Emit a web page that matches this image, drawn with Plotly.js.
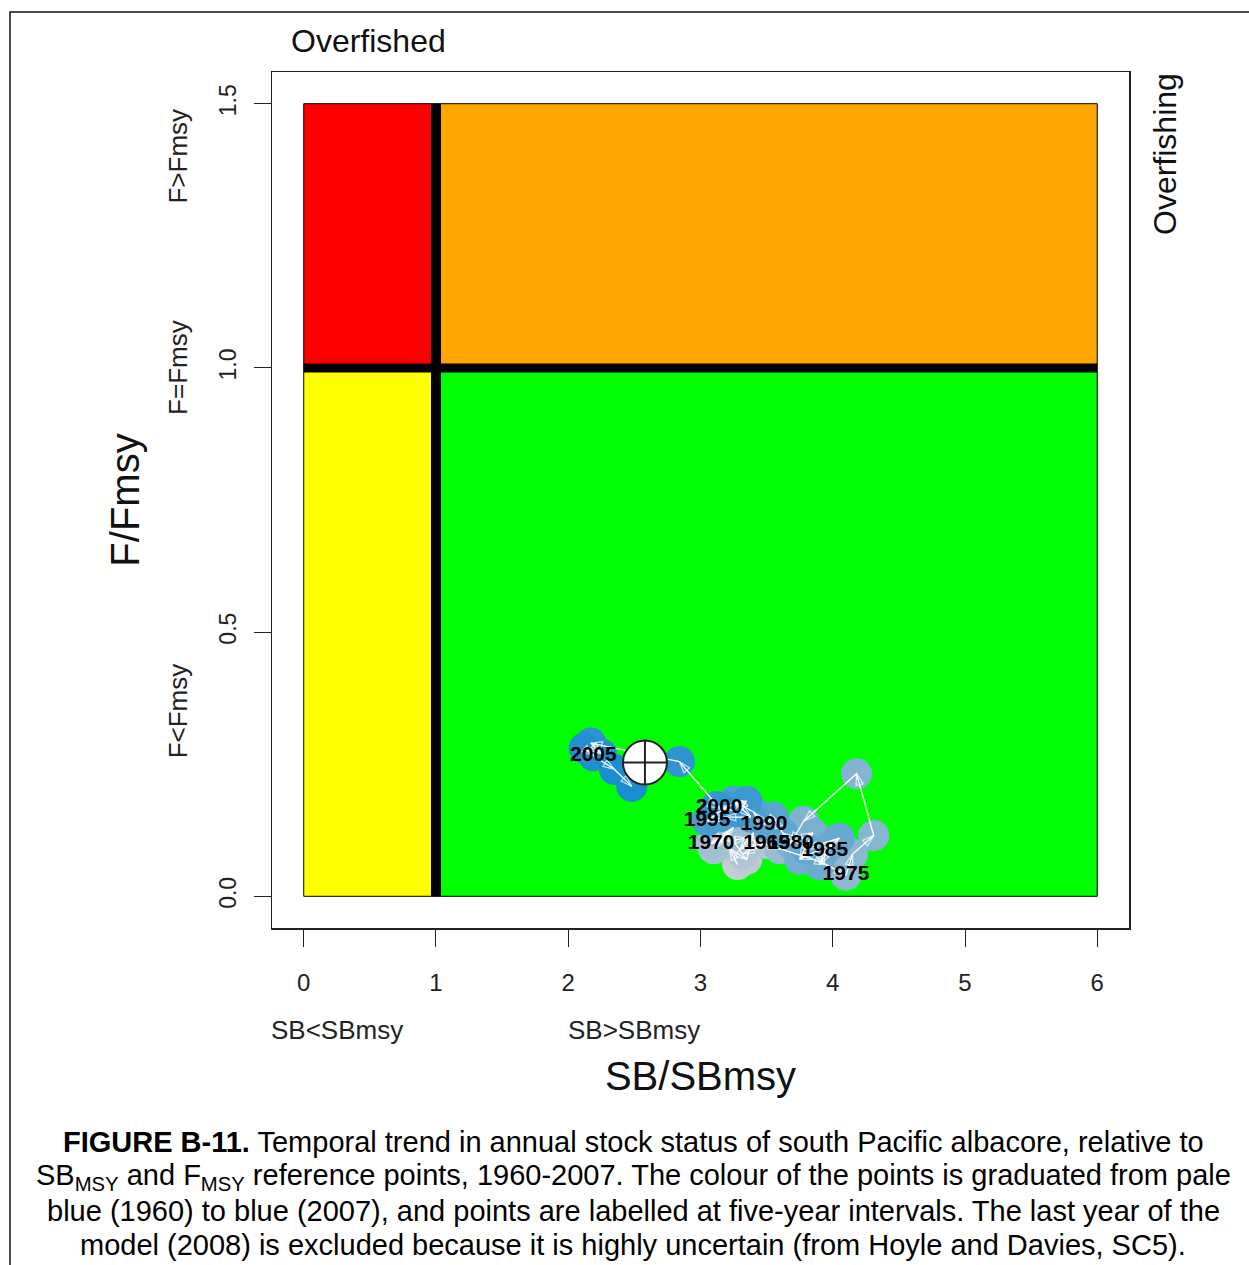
<!DOCTYPE html>
<html>
<head>
<meta charset="utf-8">
<script src="https://cdn.plot.ly/plotly-3.0.1.min.js"></script>
<style>html,body{margin:0;padding:0;background:#fff;}#chart{width:1249px;height:1265px;}</style>
</head>
<body>
<div id="chart"></div>
<script>
// ---- data ----
const years = [1960,1961,1962,1963,1964,1965,1966,1967,1968,1969,
               1970,1971,1972,1973,1974,1975,1976,1977,1978,1979,
               1980,1981,1982,1983,1984,1985,1986,1987,1988,1989,
               1990,1991,1992,1993,1994,1995,1996,1997,1998,1999,
               2000,2001,2002,2003,2004,2005,2006,2007];
const sbRatio = [3.28,3.22,3.35,3.40,3.30,3.50,3.32,3.20,3.10,3.25,
                 3.08,3.35,3.60,3.85,3.95,4.10,4.15,4.31,4.18,3.78,
                 3.68,3.85,3.75,4.00,3.90,3.94,4.05,3.80,3.62,3.55,
                 3.48,3.40,3.25,3.38,3.18,3.05,3.20,3.35,3.28,3.12,
                 3.14,2.84,2.17,2.25,2.12,2.19,2.35,2.48];
const fRatio  = [0.06,0.09,0.07,0.12,0.09,0.10,0.08,0.12,0.09,0.13,
                 0.10,0.11,0.09,0.07,0.06,0.04,0.08,0.115,0.232,0.142,
                 0.10,0.12,0.07,0.10,0.06,0.087,0.11,0.09,0.12,0.15,
                 0.136,0.16,0.18,0.15,0.15,0.143,0.17,0.18,0.16,0.17,
                 0.168,0.255,0.29,0.27,0.28,0.266,0.24,0.208];
const labelYears = [1965,1970,1975,1980,1985,1990,1995,2000,2005];
const currentSB = [2.58];
const currentF  = [0.253];

const xTicks = [0,1,2,3,4,5,6];
const yTicks = [0,0.5,1,1.5];
const yTickText = ["0.0","0.5","1.0","1.5"];

// zones
const zoneX0 = [0,1,0,1];
const zoneX1 = [1,6,1,6];
const zoneY0 = [1,1,0,0];
const zoneY1 = [1.5,1.5,1,1];
const zoneColors = ["#FF0000","#FFA500","#FFFF00","#00FF00"];
const refSB = 1, refF = 1;

const yLabelText = ["F>Fmsy","F=Fmsy","F<Fmsy"];
const yLabelPos = [1.4,1.0,0.35];
const xLabelText = ["SB<SBmsy","SB>SBmsy"];
const xLabelPos = [0.25,2.5];

const captionLines = [
  "<b>FIGURE B-11.</b> Temporal trend in annual stock status of south Pacific albacore, relative to",
  "SB<sub>MSY</sub> and F<sub>MSY</sub> reference points, 1960-2007. The colour of the points is graduated from pale",
  "blue (1960) to blue (2007), and points are labelled at five-year intervals. The last year of the",
  "model (2008) is excluded because it is highly uncertain (from Hoyle and Davies, SC5)."
];

// ---- build ----
const FONT = "Liberation Sans, Arial, Helvetica, sans-serif";
const shapes = [];
for (let i=0;i<zoneX0.length;i++){
  shapes.push({type:"rect",xref:"x",yref:"y",x0:zoneX0[i],x1:zoneX1[i],y0:zoneY0[i],y1:zoneY1[i],
    fillcolor:zoneColors[i],line:{color:"#000",width:1},layer:"below"});
}
shapes.push({type:"line",xref:"x",yref:"y",x0:refSB,x1:refSB,y0:0,y1:1.5,line:{color:"#000",width:10},layer:"below"});
shapes.push({type:"line",xref:"x",yref:"y",x0:0,x1:6,y0:refF,y1:refF,line:{color:"#000",width:9},layer:"below"});
// outer figure frame
shapes.push({type:"rect",xref:"paper",yref:"paper",x0:(10-272)/857,x1:(1260-272)/857,y0:(928-1275)/856,y1:(928-12)/856,
  line:{color:"#111",width:1.5},fillcolor:"rgba(0,0,0,0)"});

const labX=[],labY=[],labT=[];
labelYears.forEach(yr=>{const i=years.indexOf(yr);labX.push(sbRatio[i]);labY.push(fRatio[i]);labT.push(String(yr));});

const arrowSizes = years.map((y,i)=> i===0?0:12);

const traces = [
  {type:"scatter",mode:"markers",x:sbRatio,y:fRatio,hoverinfo:"text",text:years.map(String),
   marker:{size:31,color:years,cmin:1960,cmax:2007,
     colorscale:[[0,"#c4cdd4"],[1,"#1a8ccf"]],line:{width:0},opacity:1},showlegend:false},
  {type:"scatter",mode:"lines+markers",x:sbRatio,y:fRatio,hoverinfo:"skip",
   line:{color:"#ffffff",width:1.3},
   marker:{symbol:"arrow-open",size:arrowSizes,angleref:"previous",color:"#ffffff",line:{color:"#ffffff",width:1.3}},showlegend:false},
  {type:"scatter",mode:"text",x:labX,y:labY,text:labT,textposition:"middle center",hoverinfo:"skip",
   textfont:{family:FONT,size:21,color:"#000",weight:"bold"},showlegend:false},
  {type:"scatter",mode:"markers",x:currentSB,y:currentF,hoverinfo:"skip",
   marker:{symbol:"circle-cross",size:44,color:"#ffffff",line:{color:"#222",width:2}},showlegend:false}
];

const annotations = [];
annotations.push({text:"Overfished",xref:"paper",yref:"paper",x:(368-272)/857,y:(928-41)/856,showarrow:false,
  xanchor:"center",yanchor:"middle",font:{family:FONT,size:32,color:"#111"}});
annotations.push({text:"Overfishing",xref:"paper",yref:"paper",x:(1165-272)/857,y:(928-154)/856,showarrow:false,
  textangle:-90,xanchor:"center",yanchor:"middle",font:{family:FONT,size:32,color:"#111"}});
yLabelText.forEach((t,i)=>annotations.push({text:t,xref:"paper",yref:"y",x:(178-272)/857,y:yLabelPos[i],showarrow:false,
  textangle:-90,xanchor:"center",yanchor:"middle",font:{family:FONT,size:26,color:"#222"}}));
xLabelText.forEach((t,i)=>annotations.push({text:t,xref:"x",yref:"paper",x:xLabelPos[i],y:(928-1030)/856,showarrow:false,
  xanchor:"center",yanchor:"middle",font:{family:FONT,size:26,color:"#222"}}));
const captionY = [1142,1177,1211,1245];
captionLines.forEach((t,i)=>annotations.push({text:t,xref:"paper",yref:"paper",x:(633-272)/857,y:(928-captionY[i])/856,
  showarrow:false,xanchor:"center",yanchor:"middle",align:"center",font:{family:FONT,size:29,color:"#000"}}));

const layout = {
  width:1249,height:1265,
  margin:{l:272,r:120,t:72,b:337,pad:0},
  paper_bgcolor:"#fff",plot_bgcolor:"#fff",
  font:{family:FONT,color:"#222"},
  showlegend:false,
  xaxis:{range:[-0.24,6.24],tickvals:xTicks,ticks:"outside",ticklen:17,tickwidth:1,tickcolor:"#222",
    showline:true,mirror:true,linecolor:"#222",linewidth:1.5,showgrid:false,zeroline:false,
    tickfont:{family:FONT,size:24,color:"#222"},ticklabelstandoff:16,
    title:{text:"SB/SBmsy",font:{family:FONT,size:40,color:"#111"},standoff:66}},
  yaxis:{range:[-0.06,1.56],tickvals:yTicks,ticktext:yTickText,ticks:"outside",ticklen:17,tickwidth:1,tickcolor:"#222",
    tickangle:-90,showline:true,mirror:true,linecolor:"#222",linewidth:1.5,showgrid:false,zeroline:false,
    tickfont:{family:FONT,size:23,color:"#222"},ticklabelstandoff:8,
    title:{text:"F/Fmsy",font:{family:FONT,size:40,color:"#111"},standoff:63}},
  shapes:shapes,annotations:annotations
};

Plotly.newPlot("chart",traces,layout,{staticPlot:true,displayModeBar:false});
</script>
</body>
</html>
